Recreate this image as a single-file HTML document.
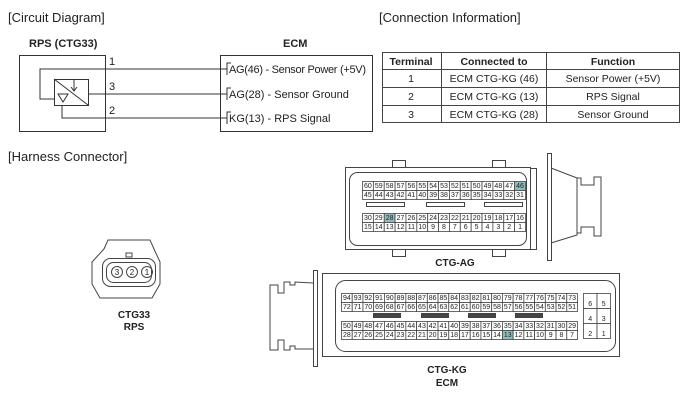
<!DOCTYPE html>
<html><head><meta charset="utf-8"><style>
html,body{margin:0;padding:0;background:#fff;}
svg{display:block;font-family:"Liberation Sans",Arial,sans-serif;}
</style></head><body>
<svg id="s" width="700" height="401" viewBox="0 0 700 401" xmlns="http://www.w3.org/2000/svg">
<g fill="#222" font-size="13">
<text x="8" y="22">[Circuit Diagram]</text>
<text x="379" y="22">[Connection Information]</text>
<text x="8" y="161">[Harness Connector]</text>
</g>
<g fill="none" stroke="#333" stroke-width="1">
<rect x="19.5" y="55.5" width="86" height="76"/>
<rect x="220.5" y="55.5" width="152" height="76"/>
<polyline points="227,69 40,69 40,99 54,99"/>
<line x1="89" y1="94" x2="227" y2="94"/>
<polyline points="62,105 62,118 227,118"/>
<rect x="54.5" y="79.5" width="34" height="26"/>
<line x1="54" y1="79" x2="88" y2="105"/>
<polyline points="74,79 74,90"/><polyline points="71,87 74,91 77,87"/>
<polygon points="58,94 68,94 63,102"/>
<polyline points="231,63 227,63 227,75"/>
<polyline points="231,88 227,88 227,100"/>
<polyline points="231,112 227,112 227,124"/>
</g>
<g font-size="11" fill="#222">
<text x="29" y="47" font-weight="bold">RPS (CTG33)</text>
<text x="283" y="47" font-weight="bold">ECM</text>
<text x="109" y="65">1</text><text x="109" y="90">3</text><text x="109" y="114">2</text>
<text x="229" y="73" textLength="137">AG(46) - Sensor Power (+5V)</text>
<text x="229" y="98">AG(28) - Sensor Ground</text>
<text x="229" y="122">KG(13) - RPS Signal</text>
</g>
<g stroke="#444" fill="none">
<rect x="382.5" y="52.5" width="297" height="70"/>
<line x1="382" y1="69.5" x2="680" y2="69.5"/>
<line x1="382" y1="87.5" x2="680" y2="87.5"/>
<line x1="382" y1="105.5" x2="680" y2="105.5"/>
<line x1="441.5" y1="52" x2="441.5" y2="123"/>
<line x1="546.5" y1="52" x2="546.5" y2="123"/>
</g>
<g font-size="10.5" fill="#222" text-anchor="middle">
<text x="411" y="65" font-weight="bold">Terminal</text>
<text x="494" y="65" font-weight="bold">Connected to</text>
<text x="613" y="65" font-weight="bold">Function</text>
<text x="411" y="82">1</text><text x="494" y="82">ECM CTG-KG (46)</text><text x="613" y="82">Sensor Power (+5V)</text>
<text x="411" y="100">2</text><text x="494" y="100">ECM CTG-KG (13)</text><text x="613" y="100">RPS Signal</text>
<text x="411" y="118">3</text><text x="494" y="118">ECM CTG-KG (28)</text><text x="613" y="118">Sensor Ground</text>
</g>
<g fill="none" stroke="#444">
<path d="M104,249 L108,240 L150,240 L154,249 L160,262 L160,284 L152,298 L100,298 L92,284 L92,262 Z"/>
<rect x="102.5" y="258.5" width="53" height="28" rx="8"/>
<rect x="106.5" y="262.5" width="45" height="20" rx="7"/>
<circle cx="117" cy="272" r="5.5"/><circle cx="132" cy="272" r="5.5"/><circle cx="147" cy="272" r="5.5"/>
<rect x="126" y="253" width="6" height="4"/>
</g>
<g font-size="8" fill="#222" text-anchor="middle"><text x="117" y="275">3</text><text x="132" y="275">2</text><text x="147" y="275">1</text></g>
<g font-size="10" font-weight="bold" fill="#222" text-anchor="middle">
<text x="134" y="318">CTG33</text><text x="134" y="330">RPS</text>
<text x="455" y="266">CTG-AG</text>
<text x="447" y="373">CTG-KG</text><text x="447" y="386">ECM</text>
</g>
<g fill="none" stroke="#444">
<rect x="345.5" y="167.5" width="185" height="82"/>
<rect x="349.5" y="172.5" width="177" height="73" rx="8"/>
<rect x="392.5" y="160.5" width="13" height="7"/><rect x="492.5" y="160.5" width="13" height="7"/>
<rect x="392.5" y="249.5" width="13" height="7"/><rect x="492.5" y="249.5" width="13" height="7"/>
<rect x="530.5" y="168.5" width="6" height="81"/>
<rect x="547.5" y="153.5" width="4" height="107"/>
<polyline points="551,168 577,178 577,235 551,243"/>
<polyline points="577,178 581,178 581,185 594,185 594,177 601,177 601,236 594,236 594,227 581,227 581,233 577,233"/>
<rect x="366.5" y="202.5" width="38" height="4"/><rect x="426.5" y="202.5" width="38" height="4"/><rect x="484.5" y="202.5" width="38" height="4"/>
</g>
<g fill="none" stroke="#444">
<rect x="322.5" y="273.5" width="297" height="83"/>
<rect x="335.5" y="280.5" width="280" height="71" rx="10"/>
<rect x="313.5" y="270.5" width="4" height="96"/>
<polyline points="313,283 295,282 295,285 290,285 290,282 284,282 284,293 278,293 278,285 270,285 270,350 278,350 278,340 284,340 284,350 290,350 290,346 295,346 295,349 313,349"/>
<rect x="373.5" y="313.5" width="27" height="4" fill="#444"/><rect x="421.5" y="313.5" width="27" height="4" fill="#444"/><rect x="468.5" y="313.5" width="27" height="4" fill="#444"/><rect x="515.5" y="313.5" width="27" height="4" fill="#444"/>
</g>
<g id="pins"></g>
</svg>
<script>
var g=document.getElementById('pins'),ns='http://www.w3.org/2000/svg';
function pin(x,y,w,h,n,hl){var r=document.createElementNS(ns,'rect');r.setAttribute('x',x+.5);r.setAttribute('y',y+.5);r.setAttribute('width',w);r.setAttribute('height',h);r.setAttribute('fill',hl?'#8fbcbc':'#fff');r.setAttribute('stroke','#444');r.setAttribute('stroke-width','0.8');g.appendChild(r);
var t=document.createElementNS(ns,'text');t.setAttribute('x',x+w/2+.5);t.setAttribute('y',y+h-1.8);t.setAttribute('font-size','7');t.setAttribute('text-anchor','middle');t.setAttribute('fill','#222');t.textContent=n;g.appendChild(t);}
var i,w=163/15;
for(i=0;i<15;i++){pin(362+i*w,181,w,9,60-i,60-i==46);pin(362+i*w,190,w,9,45-i,0);pin(362+i*w,213,w,9,30-i,30-i==28);pin(362+i*w,222,w,9,15-i,0);}
w=236/22;
for(i=0;i<22;i++){pin(341+i*w,293,w,9,94-i,0);pin(341+i*w,302,w,9,72-i,0);pin(341+i*w,321,w,9,50-i,0);pin(341+i*w,330,w,9,28-i,28-i==13);}
var k=[[6,5],[4,3],[2,1]];
for(i=0;i<3;i++){pin(583,293+i*15,13.5,15,k[i][0],0);pin(596.5,293+i*15,13.5,15,k[i][1],0);}
</script>
</body></html>
